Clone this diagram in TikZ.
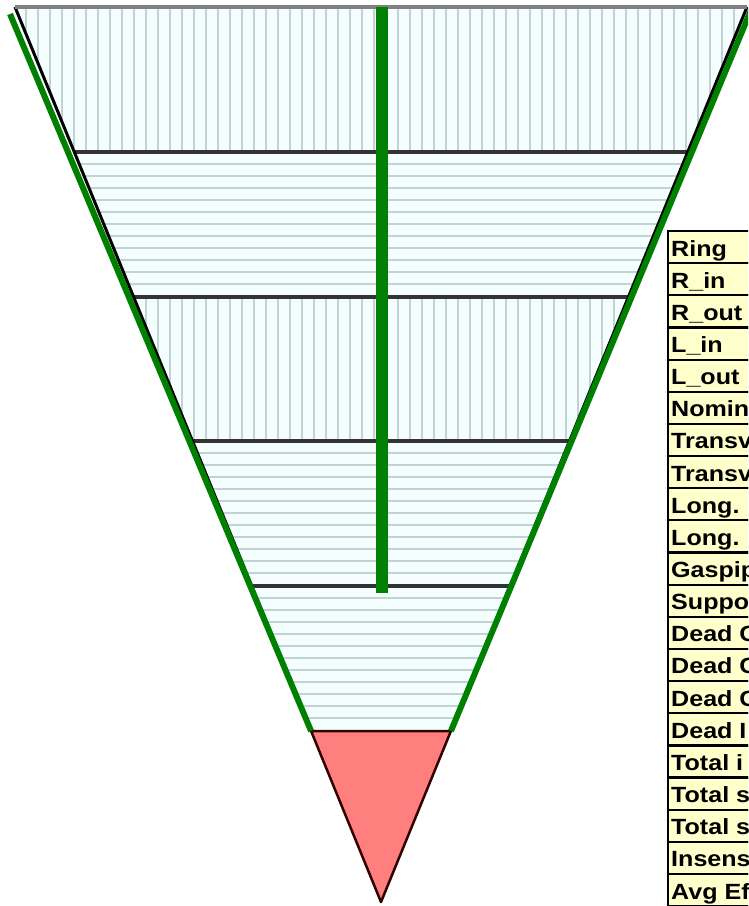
\documentclass[tikz,border=0pt]{standalone}
\usepackage{fontspec}
\newfontfamily\cellfont[FakeStretch=1.14]{Liberation Sans}
\usetikzlibrary{calc}
\definecolor{ringfill}{HTML}{F4FEFE}
\definecolor{hatch}{HTML}{C2D3D3}
\definecolor{wirered}{HTML}{FF7F7F}
\definecolor{cellyellow}{HTML}{FFFFCC}
\definecolor{chamgreen}{HTML}{008000}
\tikzset{
  hatchline/.style={hatch, line width=2.2pt},
  ringedge/.style={black!80, line width=3.5pt},
  greenbar/.style={chamgreen, line width=6pt},
  cellbox/.style={fill=cellyellow, draw=black, line width=2.2pt},
  celltext/.style={anchor=base west, inner sep=0pt, font=\cellfont\bfseries\fontsize{22}{25}\selectfont},
}

\begin{document}
\begin{tikzpicture}[x=1pt,y=-1pt]
\useasboundingbox (0,0) rectangle (748,906);
\clip (0,0) rectangle (748,906);
\coordinate (tl) at (15,7);
\coordinate (tr) at (747,7);
\coordinate (apex) at (381,902);
\coordinate (bl) at ($(tl)!0.809!(apex)$);
\coordinate (br) at ($(tr)!0.809!(apex)$);
% rings
\begin{scope}
\clip (tl) -- (tr) -- (br) -- (bl) -- cycle;
\fill[ringfill] (0,0) rectangle (748,731);
\foreach \ya in {7,297}
  \foreach \x in {2,14,...,748}
    \draw[hatchline] (\x,\ya) -- (\x,\ya+145);
\foreach \ya in {152,441,586}
  \foreach \k in {1,...,11}
    \draw[hatchline] (0,\ya+12*\k) -- (748,\ya+12*\k);
\foreach \y in {152,297,441,586}
  \draw[ringedge] (0,\y) -- (748,\y);
\end{scope}
\draw[black, line width=3pt] (bl) -- (tl);
\draw[black, line width=3pt] (br) -- (tr);
\draw[gray, line width=3.5pt] (tl) -- (tr);
% inner wedge
\filldraw[fill=wirered, draw=black!80!red, line width=2.5pt, line join=round] (bl) -- (br) -- (apex) -- cycle;
% green wires
\coordinate (gl) at (10,14);
\coordinate (gr) at (751,10);
\draw[greenbar] (gl) -- (bl);
\draw[greenbar] (gr) -- (br);
\draw[chamgreen, line width=12pt] (382,7) -- (382,593);
% table
\foreach \lbl [count=\i from 0] in {Ring,R\_in,R\_out,L\_in,L\_out,Nominal,Transverse,Transverse,Long.,Long.,Gaspipe,Support,Dead C,Dead C,Dead C,Dead I,Total i,Total s,Total s,Insens,Avg Ef}{
  \filldraw[cellbox] (668,231+32.15*\i) rectangle (770,263.15+32.15*\i);
  \node[celltext] (row\i) at (671,256+32.15*\i) {\lbl};
}
\end{tikzpicture}
\end{document}
